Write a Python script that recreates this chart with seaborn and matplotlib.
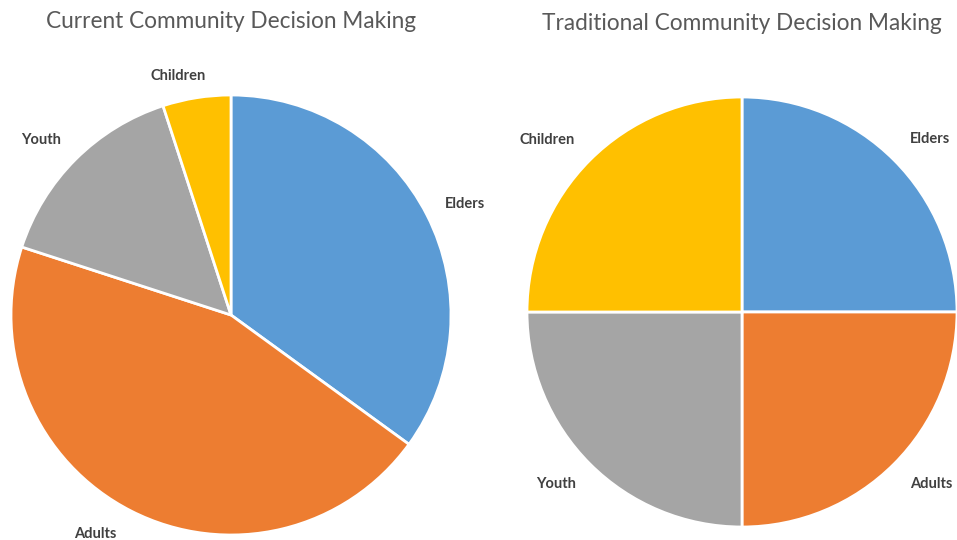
import matplotlib.pyplot as plt
import seaborn as sns

categories = ["Elders", "Adults", "Youth", "Children"]
current_share = [35, 45, 15, 5]
traditional_share = [25, 25, 25, 25]

SLICE_COLORS = ["#5B9BD5", "#ED7D31", "#A5A5A5", "#FFC000"]

# label anchor points, in units of the pie radius (Excel "outside end" look)
CURRENT_LABEL_POS = [(1.064, 0.505), (-0.618, -0.995), (-0.864, 0.795), (-0.239, 1.086)]
TRADITIONAL_LABEL_POS = [(0.874, 0.805), (0.879, -0.80), (-0.865, -0.80), (-0.907, 0.802)]

sns.set_theme(style="white")
plt.rcParams["font.family"] = ["Lato", "DejaVu Sans"]

W, H = 957, 540
fig = plt.figure(figsize=(W / 100, H / 100), dpi=100)


def _pie(cx, cy, r, values, title, title_y, label_pos):
    ax = fig.add_axes([(cx - r) / W, 1 - (cy + r) / H, 2 * r / W, 2 * r / H])
    wedges, texts = ax.pie(
        values,
        labels=categories,
        colors=SLICE_COLORS,
        startangle=90,
        counterclock=False,
        wedgeprops={"edgecolor": "white", "linewidth": 2},
        textprops={"fontsize": 10.5, "fontweight": "bold", "color": "#404040"},
    )
    for t, pos in zip(texts, label_pos):
        t.set_position(pos)
        t.set_ha("center")
        t.set_va("center")
    ax.set_xlim(-1, 1)
    ax.set_ylim(-1, 1)
    ax.set_aspect("equal")
    fig.text(cx / W, 1 - title_y / H, title, ha="center", va="center",
             fontsize=16.3, color="#595959")


_pie(231, 315, 220, current_share, "Current Community Decision Making", 21,
     CURRENT_LABEL_POS)
_pie(742, 312, 215, traditional_share, "Traditional Community Decision Making", 24,
     TRADITIONAL_LABEL_POS)

fig.savefig("out.png", dpi=100)
